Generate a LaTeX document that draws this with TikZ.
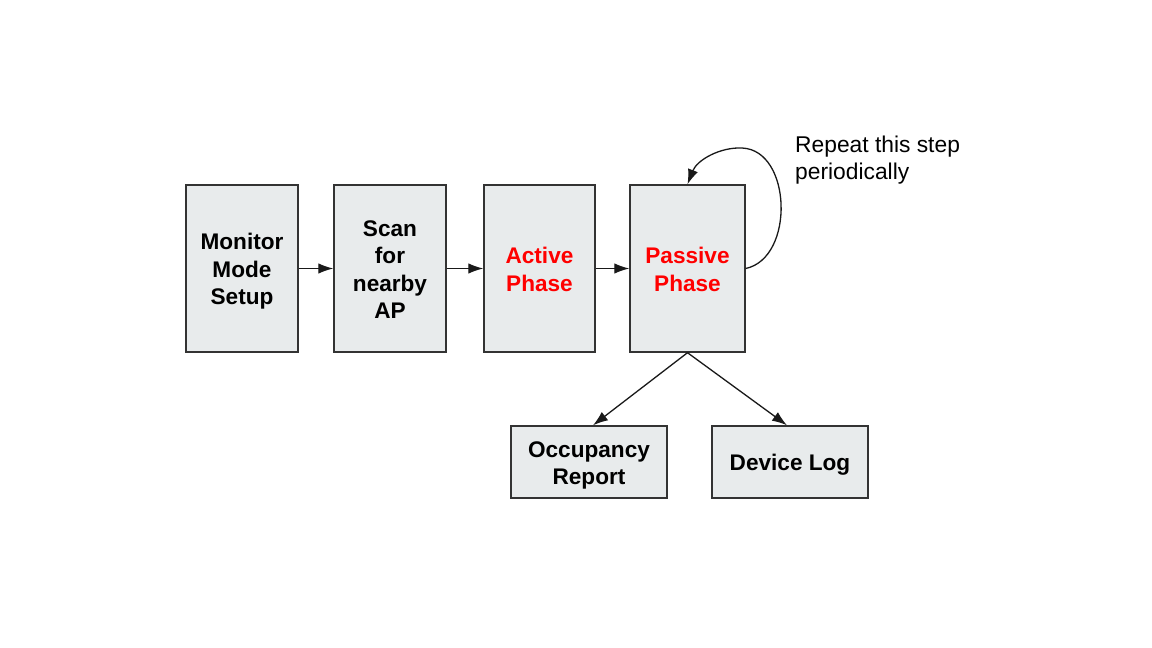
\documentclass[tikz,border=0pt]{standalone}
\usepackage{fontspec}
\setmainfont{Liberation Sans}
\usetikzlibrary{arrows.meta}
\definecolor{boxfill}{HTML}{E8EBEC}
\definecolor{boxline}{HTML}{333333}
\definecolor{redtxt}{HTML}{FF0000}
\newcommand{\boxlbl}[1]{\raisebox{-3.4pt}[\height][\depth]{\begin{tabular}{@{}c@{}}#1\end{tabular}}}
\begin{document}
\begin{tikzpicture}[x=1pt,y=-1pt,
  stepbox/.style={draw=boxline,fill=boxfill,line width=1.4pt,inner sep=0pt,
    font=\fontsize{22.6}{27.5}\selectfont\bfseries},
  tall/.style={stepbox,minimum height=167pt},
  flowarrow/.style={draw=black!90,line width=1.3pt,-{Latex[length=15pt,width=10.5pt]}}]
\useasboundingbox (0,0) rectangle (1152,648);
\node[tall,minimum width=112pt] (mon) at (242,268.5) {\boxlbl{Monitor\\Mode\\Setup}};
\node[tall,minimum width=112pt] (scan) at (390,268.5) {\boxlbl{Scan\\for\\nearby\\AP}};
\node[tall,minimum width=111pt,text=redtxt] (act) at (539.5,268.5) {\boxlbl{Active\\Phase}};
\node[tall,minimum width=115pt,text=redtxt] (pas) at (687.5,268.5) {\boxlbl{Passive\\Phase}};
\node[stepbox,minimum width=156pt,minimum height=72pt] (occ) at (589,462) {\boxlbl{Occupancy\\Report}};
\node[stepbox,minimum width=156pt,minimum height=72pt] (dev) at (790,462) {\boxlbl{Device Log}};
\node[anchor=west,inner sep=0pt,align=left,font=\fontsize{22.8}{27}\selectfont] (note) at (795,160.5) {Repeat this step\\periodically};
\draw[flowarrow] (mon.east) -- (scan.west);
\draw[flowarrow] (scan.east) -- (act.west);
\draw[flowarrow] (act.east) -- (pas.west);
\coordinate (pasb) at (pas.south);
\draw[flowarrow] (pasb) -- (occ.north -| 593,0);
\draw[flowarrow] (pasb) -- (dev.north -| 787,0);
\coordinate (looptop) at (742,148);
\draw[flowarrow] (pas.east) .. controls (795,258) and (792,150) .. (looptop) .. controls (720,147) and (697,160) .. (pas.north);
\end{tikzpicture}
\end{document}
